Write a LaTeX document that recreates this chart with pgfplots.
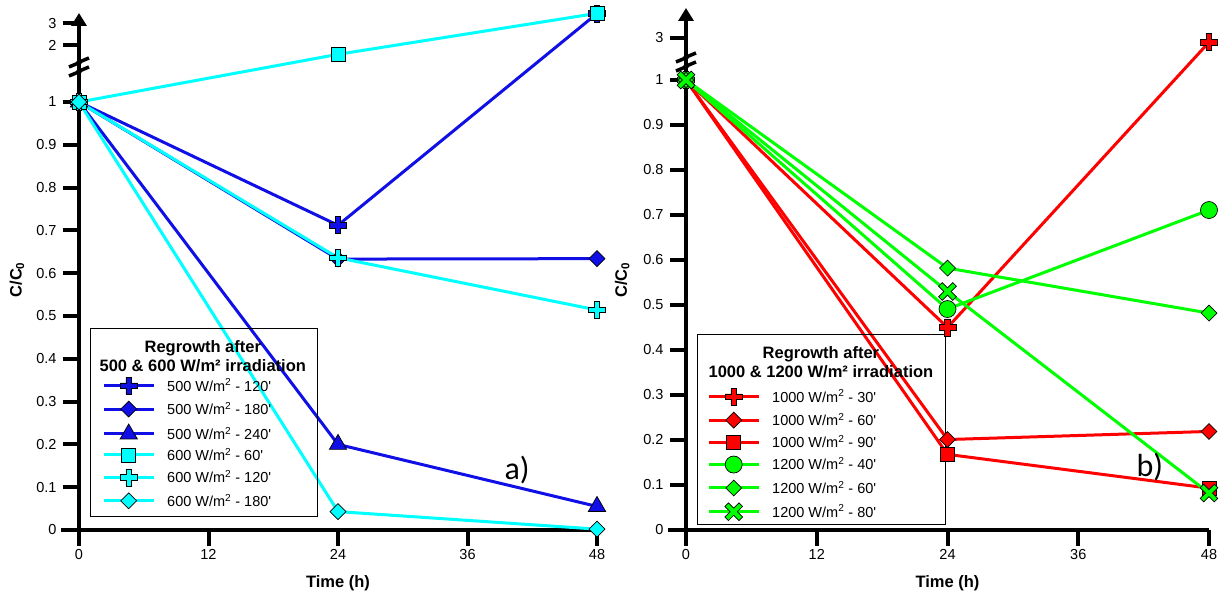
\documentclass[border=0pt]{standalone}
\usepackage{fontspec}
\setmainfont{Liberation Sans}
\newfontfamily\panelfont{Carlito}
\usepackage{pgfplots}
\pgfplotsset{compat=1.18}
\usetikzlibrary{arrows.meta}

\definecolor{runBlue}{HTML}{0F0FE6}
\definecolor{runCyan}{HTML}{00FFFF}
\definecolor{runRed}{HTML}{FF0000}
\definecolor{runGreen}{HTML}{00FF00}

\newcommand\tl[1]{{\fontsize{14.5}{16}\selectfont #1}}

% thick filled plus and cross marks with a black rim
\pgfdeclareplotmark{fatplus}{%
  \pgfpathmoveto{\pgfqpoint{-0.33\pgfplotmarksize}{\pgfplotmarksize}}%
  \pgfpathlineto{\pgfqpoint{0.33\pgfplotmarksize}{\pgfplotmarksize}}%
  \pgfpathlineto{\pgfqpoint{0.33\pgfplotmarksize}{0.33\pgfplotmarksize}}%
  \pgfpathlineto{\pgfqpoint{\pgfplotmarksize}{0.33\pgfplotmarksize}}%
  \pgfpathlineto{\pgfqpoint{\pgfplotmarksize}{-0.33\pgfplotmarksize}}%
  \pgfpathlineto{\pgfqpoint{0.33\pgfplotmarksize}{-0.33\pgfplotmarksize}}%
  \pgfpathlineto{\pgfqpoint{0.33\pgfplotmarksize}{-\pgfplotmarksize}}%
  \pgfpathlineto{\pgfqpoint{-0.33\pgfplotmarksize}{-\pgfplotmarksize}}%
  \pgfpathlineto{\pgfqpoint{-0.33\pgfplotmarksize}{-0.33\pgfplotmarksize}}%
  \pgfpathlineto{\pgfqpoint{-\pgfplotmarksize}{-0.33\pgfplotmarksize}}%
  \pgfpathlineto{\pgfqpoint{-\pgfplotmarksize}{0.33\pgfplotmarksize}}%
  \pgfpathlineto{\pgfqpoint{-0.33\pgfplotmarksize}{0.33\pgfplotmarksize}}%
  \pgfpathclose
  \pgfusepathqfillstroke
}
\pgfdeclareplotmark{fatx}{%
  \pgftransformrotate{45}%
  \pgfpathmoveto{\pgfqpoint{-0.25\pgfplotmarksize}{\pgfplotmarksize}}%
  \pgfpathlineto{\pgfqpoint{0.25\pgfplotmarksize}{\pgfplotmarksize}}%
  \pgfpathlineto{\pgfqpoint{0.25\pgfplotmarksize}{0.25\pgfplotmarksize}}%
  \pgfpathlineto{\pgfqpoint{\pgfplotmarksize}{0.25\pgfplotmarksize}}%
  \pgfpathlineto{\pgfqpoint{\pgfplotmarksize}{-0.25\pgfplotmarksize}}%
  \pgfpathlineto{\pgfqpoint{0.25\pgfplotmarksize}{-0.25\pgfplotmarksize}}%
  \pgfpathlineto{\pgfqpoint{0.25\pgfplotmarksize}{-\pgfplotmarksize}}%
  \pgfpathlineto{\pgfqpoint{-0.25\pgfplotmarksize}{-\pgfplotmarksize}}%
  \pgfpathlineto{\pgfqpoint{-0.25\pgfplotmarksize}{-0.25\pgfplotmarksize}}%
  \pgfpathlineto{\pgfqpoint{-\pgfplotmarksize}{-0.25\pgfplotmarksize}}%
  \pgfpathlineto{\pgfqpoint{-\pgfplotmarksize}{0.25\pgfplotmarksize}}%
  \pgfpathlineto{\pgfqpoint{-0.25\pgfplotmarksize}{0.25\pgfplotmarksize}}%
  \pgfpathclose
  \pgfusepathqfillstroke
}

\pgfplotsset{
  regrowth panel/.style={
    scale only axis,
    axis lines=left,
    xmin=0, xmax=48, ymin=0,
    clip=false,
    axis line style={line width=4pt},
    x axis line style={-},
    y axis line style={-{Triangle[length=13pt,width=15pt]}},
    tick align=outside,
    major tick length=16pt,
    tick style={line width=4pt, black},
    xtick={0,12,24,36,48},
    xticklabels={\tl{0},\tl{12},\tl{24},\tl{36},\tl{48}},
    yticklabel style={xshift=-3pt},
    label style={font=\bfseries\fontsize{16.5}{18}\selectfont},
    xlabel={Time (h)},
    ylabel={C/C\textsubscript{0}},
    every axis plot/.append style={line width=3pt},
    legend image code/.code={%
      \draw[mark repeat=2,mark phase=2] plot coordinates {(0pt,0pt) (25pt,0pt) (50pt,0pt)};},
    legend style={draw=none, fill=none, inner sep=0pt,
      row sep=7pt, column sep=12pt,
      nodes={font=\fontsize{14.5}{16}\selectfont, inner sep=0pt, anchor=west}},
  },
  mk/.style={mark options={solid, fill=#1, draw=black, line width=0.7pt}},
  diamondmk/.style={mark=square*, mark size=5.6pt, mark options={solid, fill=#1, draw=black, line width=0.7pt, rotate=45}},
}

\begin{document}
\begin{tikzpicture}
\path[use as bounding box] (0pt,0pt) rectangle (1229pt,601pt);

% ---- left panel: 500 & 600 W/m2 ----
\begin{axis}[
  regrowth panel,
  at={(79pt,71pt)}, anchor=south west,
  width=518pt, height=517pt,
  ymax=3.4753,
  y coord trafo/.code={\pgfmathparse{#1>1.01 ? 1.1332+(#1-2)*0.0507 : #1}},
  ytick={0,0.1,0.2,0.3,0.4,0.5,0.6,0.7,0.8,0.9,1,2,3},
  yticklabels={\tl{0},\tl{0.1},\tl{0.2},\tl{0.3},\tl{0.4},\tl{0.5},\tl{0.6},\tl{0.7},\tl{0.8},\tl{0.9},\tl{1},\tl{2},\tl{3}},
  xlabel style={at={(axis description cs:0.5,-0.1025)}, anchor=center},
  ylabel style={at={(axis description cs:-0.1197,0.484)}, anchor=center},
  legend style={at={(rel axis cs:0.0444,0.296)}, anchor=north west},
]
  \addplot[runBlue, mark=fatplus, mark size=8.5pt, mk=runBlue]
    coordinates {(0,1) (24,0.712) (48,3.45)};
  \addlegendentry{500 W/m\textsuperscript{2} - 120\textquotesingle}
  \addplot[runBlue, diamondmk=runBlue]
    coordinates {(0,1) (24,0.633) (48,0.634)};
  \addlegendentry{500 W/m\textsuperscript{2} - 180\textquotesingle}
  \addplot[runBlue, mark=triangle*, mark size=10pt, mk=runBlue]
    coordinates {(0,1) (24,0.200) (48,0.055)};
  \addlegendentry{500 W/m\textsuperscript{2} - 240\textquotesingle}
  \addplot[runCyan, mark=square*, mark size=7pt, mk=runCyan]
    coordinates {(0,1) (24,1.57) (48,3.46)};
  \addlegendentry{600 W/m\textsuperscript{2} - 60\textquotesingle}
  \addplot[runCyan, mark=fatplus, mark size=8.5pt, mk=runCyan]
    coordinates {(0,1) (24,0.636) (48,0.514)};
  \addlegendentry{600 W/m\textsuperscript{2} - 120\textquotesingle}
  \addplot[runCyan, diamondmk=runCyan]
    coordinates {(0,1) (24,0.043) (48,0.002)};
  \addlegendentry{600 W/m\textsuperscript{2} - 180\textquotesingle}

  \draw[line width=4pt] (rel axis cs:0,0) -- ++(-18pt,0pt);
  \draw[line width=3.5pt] (rel axis cs:0,0.8956) ++(-10pt,0pt) -- ++(12pt,5pt) -- ++(-4pt,-1pt) -- ++(12pt,5pt);
  \draw[line width=3.5pt] (rel axis cs:0,0.8956) ++(-10pt,-9pt) -- ++(12pt,5pt) -- ++(-4pt,-1pt) -- ++(12pt,5pt);
  \draw[line width=0.6pt] (rel axis cs:0.0212,0.0271) rectangle (rel axis cs:0.4595,0.3907);
  \node[align=center, font=\bfseries\fontsize{16.5}{18.5}\selectfont]
    at (rel axis cs:0.239,0.3366) {Regrowth after\\500 \& 600 W/m² irradiation};
  \node[font=\panelfont\fontsize{32}{36}\selectfont] at (rel axis cs:0.8456,0.116) {a)};
\end{axis}

% ---- right panel: 1000 & 1200 W/m2 ----
\begin{axis}[
  regrowth panel,
  at={(686pt,71pt)}, anchor=south west,
  width=523pt, height=522pt,
  ymax=4.419,
  y coord trafo/.code={\pgfmathparse{#1>1.01 ? 1.0933+(#1-3)*0.047 : #1}},
  ytick={0,0.1,0.2,0.3,0.4,0.5,0.6,0.7,0.8,0.9,1,3},
  yticklabels={\tl{0},\tl{0.1},\tl{0.2},\tl{0.3},\tl{0.4},\tl{0.5},\tl{0.6},\tl{0.7},\tl{0.8},\tl{0.9},\tl{1},\tl{3}},
  xlabel style={at={(axis description cs:0.5,-0.1015)}, anchor=center},
  ylabel style={at={(axis description cs:-0.122,0.479)}, anchor=center},
  legend style={at={(rel axis cs:0.0402,0.2720)}, anchor=north west},
]
  \addplot[runRed, mark=fatplus, mark size=8.5pt, mk=runRed]
    coordinates {(0,1) (24,0.450) (48,2.8)};
  \addlegendentry{1000 W/m\textsuperscript{2} - 30\textquotesingle}
  \addplot[runRed, diamondmk=runRed]
    coordinates {(0,1) (24,0.201) (48,0.219)};
  \addlegendentry{1000 W/m\textsuperscript{2} - 60\textquotesingle}
  \addplot[runRed, mark=square*, mark size=7pt, mk=runRed]
    coordinates {(0,1) (24,0.168) (48,0.093)};
  \addlegendentry{1000 W/m\textsuperscript{2} - 90\textquotesingle}
  \addplot[runGreen, mark=*, mark size=8.5pt, mk=runGreen]
    coordinates {(0,1) (24,0.491) (48,0.711)};
  \addlegendentry{1200 W/m\textsuperscript{2} - 40\textquotesingle}
  \addplot[runGreen, diamondmk=runGreen]
    coordinates {(0,1) (24,0.582) (48,0.482)};
  \addlegendentry{1200 W/m\textsuperscript{2} - 60\textquotesingle}
  \addplot[runGreen, mark=fatx, mark size=10pt, mk=runGreen]
    coordinates {(0,1) (24,0.530) (48,0.082)};
  \addlegendentry{1200 W/m\textsuperscript{2} - 80\textquotesingle}

  \draw[line width=4pt] (rel axis cs:0,0) -- ++(-18pt,0pt);
  \draw[line width=3.5pt] (rel axis cs:0,0.8966) ++(-10pt,0pt) -- ++(12pt,5pt) -- ++(-4pt,-1pt) -- ++(12pt,5pt);
  \draw[line width=3.5pt] (rel axis cs:0,0.8966) ++(-10pt,-9pt) -- ++(12pt,5pt) -- ++(-4pt,-1pt) -- ++(12pt,5pt);
  \draw[line width=0.6pt] (rel axis cs:0.021,0.0115) rectangle (rel axis cs:0.4952,0.3755);
  \node[align=center, font=\bfseries\fontsize{16.5}{18.5}\selectfont]
    at (rel axis cs:0.258,0.321) {Regrowth after\\1000 \& 1200 W/m² irradiation};
  \node[font=\panelfont\fontsize{32}{36}\selectfont] at (rel axis cs:0.887,0.1207) {b)};
\end{axis}
\end{tikzpicture}
\end{document}
